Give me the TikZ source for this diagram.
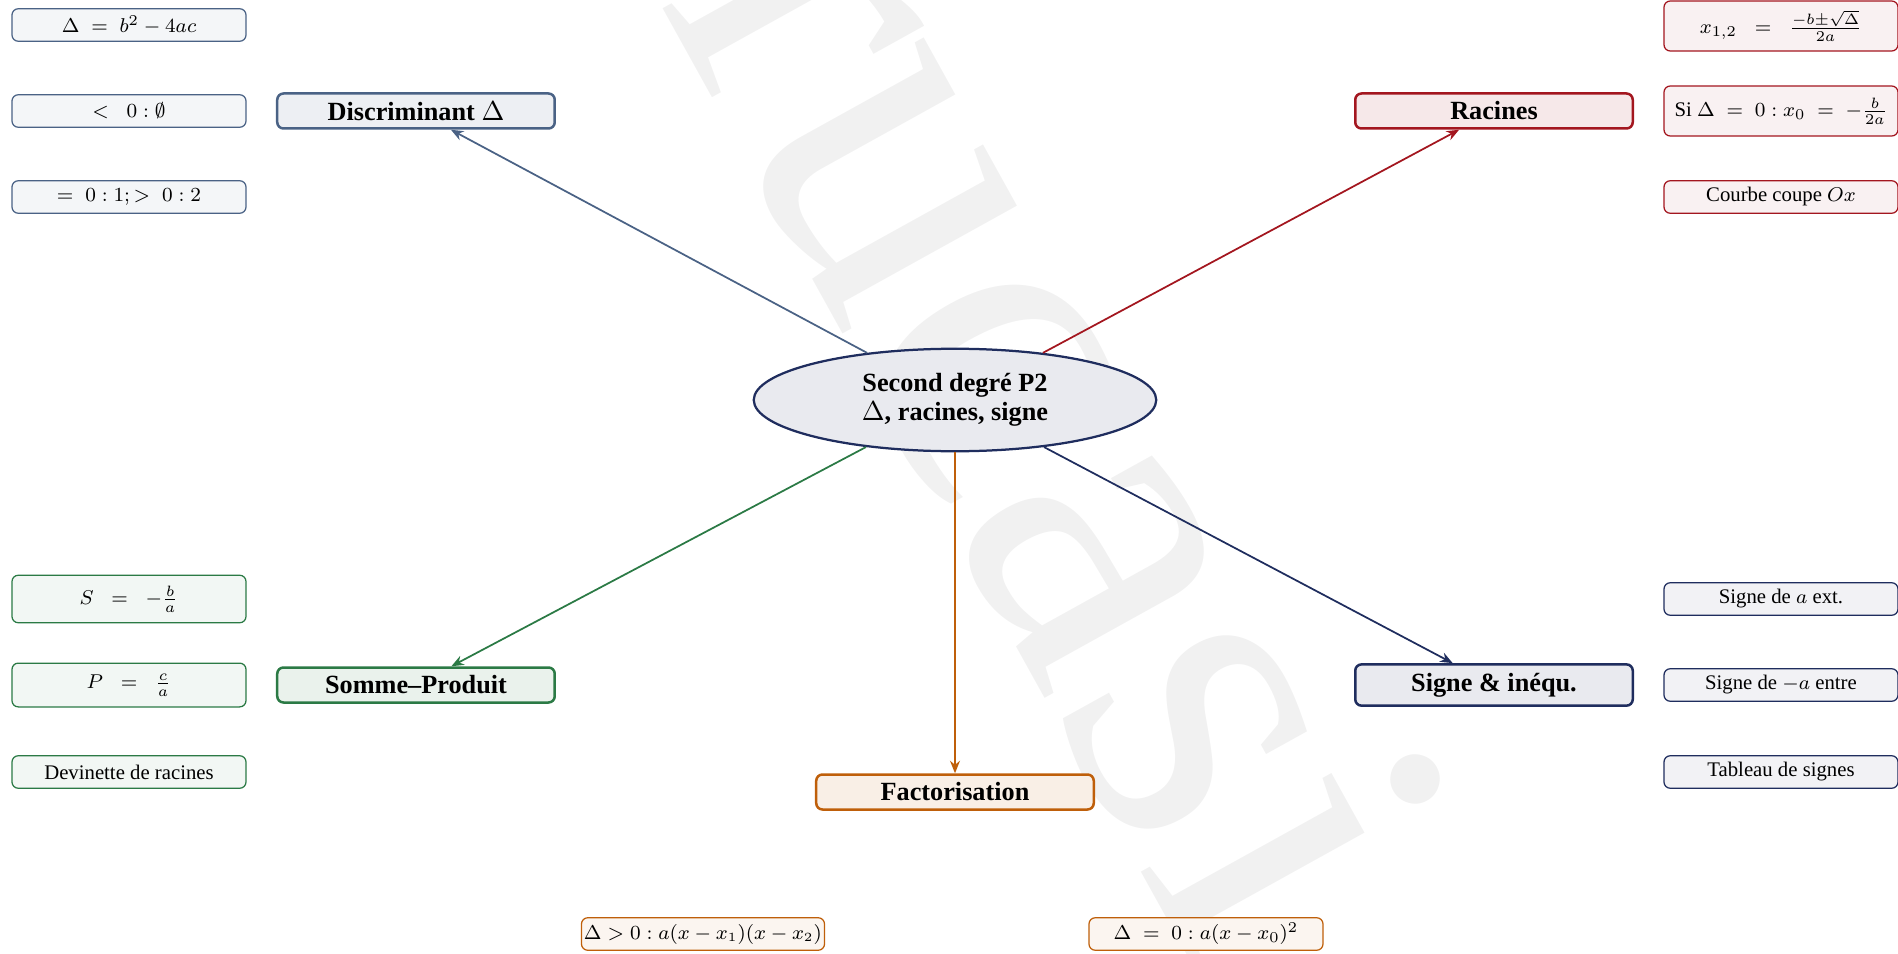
\documentclass[tikz,border=0pt]{standalone}
\usepackage{fontspec}
\setmainfont{Liberation Serif}
\usetikzlibrary{arrows.meta,shapes.geometric}

\definecolor{discol}{HTML}{4A6285}
\definecolor{raccol}{HTML}{A3161F}
\definecolor{somcol}{HTML}{2B7A45}
\definecolor{sigcol}{HTML}{1F2D5E}
\definecolor{faccol}{HTML}{BF5F0A}
\definecolor{markcol}{HTML}{F1F1F1}

\tikzset{
  hub/.style={ellipse, draw=sigcol, fill=sigcol!10, line width=0.9pt,
    minimum width=161pt, minimum height=41pt, inner sep=0pt, align=center,
    font=\fontsize{10.5}{11.5}\selectfont\bfseries},
  topic/.style={draw=#1, fill=#1!10, line width=1pt, rounded corners=2.5pt,
    minimum width=111pt, minimum height=14pt, inner sep=2pt,
    font=\fontsize{10.5}{12}\selectfont\bfseries},
  leaf/.style={draw=#1, fill=#1!6, line width=0.5pt, rounded corners=2.5pt,
    minimum width=93.6pt, minimum height=13pt, inner sep=2pt,
    font=\fontsize{8.3}{10}\selectfont},
  link/.style={draw=#1, line width=0.7pt, -{Stealth[length=5pt,width=4pt]}},
}

\begin{document}
\begin{tikzpicture}[x=0.4pt,y=0.4pt]
    \pgfmathsetmacro{\tx}{539}
    \pgfmathsetmacro{\lx}{826}

    \useasboundingbox (-955,-553) rectangle (943,400);

    % watermark
    \node[rotate=-61, text=markcol, font=\fontsize{187}{187}\selectfont] (mark) at (107,-15) {rucasi};

    % centre
    \node[hub] (P2) at (0,0) {Second degré P2\\$\Delta$, racines, signe};

    % branches
    \node[topic=discol] (disc) at (-\tx,289) {Discriminant $\Delta$};
    \node[topic=raccol] (rac) at (\tx,289) {Racines};
    \node[topic=somcol] (som) at (-\tx,-285) {Somme--Produit};
    \node[topic=sigcol, minimum height=16.5pt] (sig) at (\tx,-285) {Signe \& inéqu.};
    \node[topic=faccol] (fac) at (0,-392) {Factorisation};

    % arrows
    \draw[link=discol] (P2) -- (disc);
    \draw[link=raccol] (P2) -- (rac);
    \draw[link=somcol] (P2) -- (som);
    \draw[link=sigcol] (P2) -- (sig);
    \draw[link=faccol] (P2) -- (fac);

    % discriminant details
    \node[leaf=discol] (disc1) at (-\lx,375) {$\Delta \;=\; b^2 - 4ac$};
    \node[leaf=discol] (disc2) at (-\lx,289) {$<\;\;0:\emptyset$};
    \node[leaf=discol] (disc3) at (-\lx,203) {$=\;0:1;>\;0:2$};

    % racines details
    \node[leaf=raccol, minimum height=20pt] (rac1) at (\lx,374) {$x_{1,2} \;\;=\;\; \frac{-b\pm\sqrt{\Delta}}{2a}$};
    \node[leaf=raccol, minimum height=20pt] (rac2) at (\lx,289) {Si $\Delta \;=\; 0 : x_0 \;=\; -\frac{b}{2a}$};
    \node[leaf=raccol] (rac3) at (\lx,203) {Courbe coupe $Ox$};

    % somme-produit details
    \node[leaf=somcol, minimum height=19pt] (som1) at (-\lx,-199) {$S \;\;=\;\; -\frac{b}{a}$};
    \node[leaf=somcol, minimum height=17.5pt] (som2) at (-\lx,-285) {$P \;\;=\;\; \frac{c}{a}$};
    \node[leaf=somcol] (som3) at (-\lx,-372) {Devinette de racines};

    % signe details
    \node[leaf=sigcol] (sig1) at (\lx,-199) {Signe de $a$ ext.};
    \node[leaf=sigcol] (sig2) at (\lx,-285) {Signe de $-a$ entre};
    \node[leaf=sigcol] (sig3) at (\lx,-372) {Tableau de signes};

    % factorisation details
    \node[leaf=faccol, inner xsep=1pt, font=\fontsize{7.8}{9}\selectfont] (fac1) at (-252,-534) {$\Delta>0 : a(x-x_1)(x-x_2)$};
    \node[leaf=faccol] (fac2) at (251,-534) {$\Delta \;=\; 0 : a(x-x_0)^2$};
\end{tikzpicture}
\end{document}
